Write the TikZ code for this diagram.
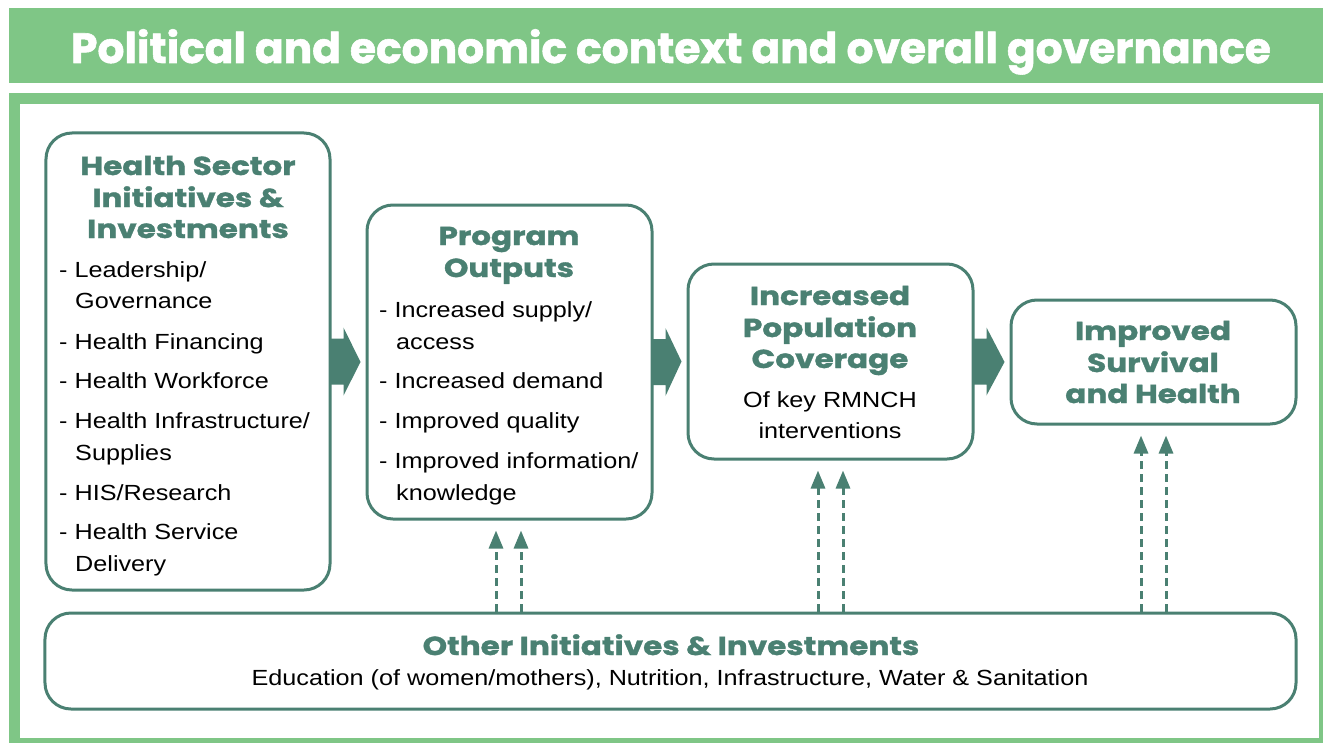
\documentclass[tikz,border=0pt]{standalone}
\usepackage{fontspec}
\setmainfont{Liberation Sans}[FakeStretch=1.15]
\newfontfamily\headfont{Poppins}[FakeStretch=1.2,BoldFeatures={FakeBold=1.3}]
\newfontfamily\titlefont{Poppins}[BoldFeatures={FakeBold=1.3}]
\usetikzlibrary{arrows.meta,calc}
\definecolor{lgreen}{HTML}{7FC686}
\definecolor{dk}{HTML}{4A8072}
\newcommand\blockarrow[2]{%
  \fill[dk] ($(#1.east)+(-1,-23)$) -- ($(#1.east)+(12,-23)$) -- ($(#1.east)+(12,-34)$)
    -- ($(#2.west)+(-5,0)$) -- ($(#1.east)+(12,34)$) -- ($(#1.east)+(12,23)$)
    -- ($(#1.east)+(-1,23)$) -- cycle;}
\begin{document}
\begin{tikzpicture}[x=1bp,y=-1bp,
  box/.style={draw=dk,line width=3bp,rounded corners=26bp,inner sep=0pt,fill=white},
  hd/.style={font=\headfont\bfseries\fontsize{26}{32}\selectfont,text=dk,anchor=base,inner sep=0pt},
  bd/.style={font=\fontsize{22}{31}\selectfont,anchor=base west,inner sep=0pt},
  bdc/.style={font=\fontsize{22}{31}\selectfont,anchor=base,inner sep=0pt},
  dar/.style={draw=dk,line width=3bp,dash pattern=on 8bp off 5bp,-{Triangle[length=18bp,width=14bp]},shorten >=10bp}]
\useasboundingbox (0,0) rectangle (1323,742);
\clip (0,0) rectangle (1323,742);
% title band and frame
\node[fill=lgreen,minimum width=1321bp,minimum height=75bp,inner sep=0pt] (band) at (669.5,45.5) {};
\node[font=\titlefont\bfseries\fontsize{42.5}{46}\selectfont,text=white,anchor=base,inner sep=0pt] (title) at (671,63) {Political and economic context and overall governance};
\draw[lgreen,line width=11bp] (14.5,98.5) rectangle (1324.5,743.5);
% boxes
\node[box,minimum width=284bp,minimum height=457bp] (b1) at (188,361.5) {};
\node[box,minimum width=285bp,minimum height=314bp] (b2) at (509.5,362) {};
\node[box,minimum width=285bp,minimum height=195bp] (b3) at (830.5,361.5) {};
\node[box,minimum width=285bp,minimum height=124bp] (b4) at (1153.5,362) {};
\node[box,minimum width=1251bp,minimum height=96bp] (b5) at (670.5,661) {};
% block arrows
\blockarrow{b1}{b2}
\blockarrow{b2}{b3}
\blockarrow{b3}{b4}
% dashed arrows
\draw[dar] (496,0 |- b5.north) -- (496,0 |- b2.south);
\draw[dar] (521,0 |- b5.north) -- (521,0 |- b2.south);
\draw[dar] (818,0 |- b5.north) -- (818,0 |- b3.south);
\draw[dar] (843,0 |- b5.north) -- (843,0 |- b3.south);
\draw[dar] (1141,0 |- b5.north) -- (1141,0 |- b4.south);
\draw[dar] (1166,0 |- b5.north) -- (1166,0 |- b4.south);
% box 1 text
\node[hd] (h1a) at (188,175) {Health Sector};
\node[hd] (h1b) at (188,207) {Initiatives \&};
\node[hd] (h1c) at (188,238) {Investments};
\node[bd] (l1a) at (59,277) {- Leadership/};
\node[bd] (l1b) at (75,308) {Governance};
\node[bd] (l1c) at (59,349) {- Health Financing};
\node[bd] (l1d) at (59,388) {- Health Workforce};
\node[bd] (l1e) at (59,428) {- Health Infrastructure/};
\node[bd] (l1f) at (75,460) {Supplies};
\node[bd] (l1g) at (59,500) {- HIS/Research};
\node[bd] (l1h) at (59,539) {- Health Service};
\node[bd] (l1i) at (75,571) {Delivery};
% box 2 text
\node[hd] (h2a) at (509,245) {Program};
\node[hd] (h2b) at (509,277) {Outputs};
\node[bd] (l2a) at (379,317) {- Increased supply/};
\node[bd] (l2b) at (396,349) {access};
\node[bd] (l2c) at (379,388) {- Increased demand};
\node[bd] (l2d) at (379,428) {- Improved quality};
\node[bd] (l2e) at (379,468) {- Improved information/};
\node[bd] (l2f) at (396,500) {knowledge};
% box 3 text
\node[hd] (h3a) at (830,305) {Increased};
\node[hd] (h3b) at (830,337) {Population};
\node[hd] (h3c) at (830,368) {Coverage};
\node[bdc] (l3a) at (830,407) {Of key RMNCH};
\node[bdc] (l3b) at (830,438) {interventions};
% box 4 text
\node[hd] (h4a) at (1153,340) {Improved};
\node[hd] (h4b) at (1153,372) {Survival};
\node[hd] (h4c) at (1153,403) {and Health};
% box 5 text
\node[hd] (h5a) at (671,655) {Other Initiatives \& Investments};
\node[bdc] (l5a) at (670,685) {Education (of women/mothers), Nutrition, Infrastructure, Water \& Sanitation};
\end{tikzpicture}
\end{document}
